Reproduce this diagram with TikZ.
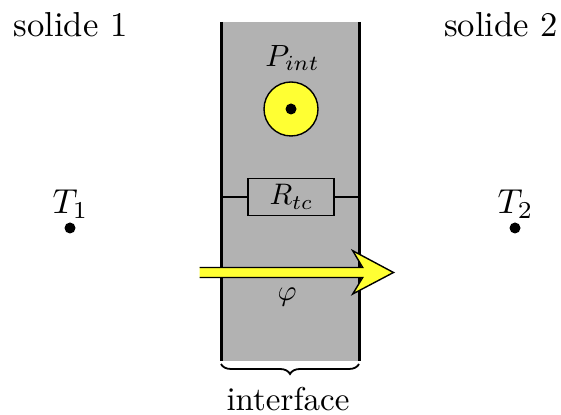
\documentclass[tikz,border=0pt]{standalone}
\usetikzlibrary{decorations.pathreplacing}
\definecolor{wallgray}{HTML}{B2B2B2}
\definecolor{fluxyellow}{HTML}{FFFF33}
\tikzset{
  lbl/.style={inner sep=0pt,scale=1.65},
  wall/.style={line width=1.5pt},
  thin wire/.style={line width=0.7pt},
  dotmark/.style={circle,fill=black,inner sep=0pt,minimum size=5.5pt},
  res/.style={draw,line width=0.7pt,minimum width=43pt,minimum height=18.5pt,inner sep=0pt}
}
\begin{document}
\begin{tikzpicture}[x=0.5pt,y=-0.5pt]
\useasboundingbox (0,0) rectangle (561,415);
\fill[wallgray] (221,22) rectangle (359,361);
\coordinate (wl) at (221,197);
\coordinate (wr) at (359,197);
\draw[wall] (221,22) -- (221,361);
\draw[wall] (359,22) -- (359,361);
\node[res] (R) at (291,197) {};
\node[lbl,scale=0.9] (Rl) at (291.5,197) {$R_{tc}$};
\draw[thin wire] (wl) -- (R.west);
\draw[thin wire] (R.east) -- (wr);
\node[circle,draw,fill=fluxyellow,line width=0.7pt,minimum size=27pt,inner sep=0pt] (src) at (291,109) {};
\node[dotmark] (srcdot) at (src.center) {};
\node[lbl,scale=0.93] (P) at (292.5,58) {$P_{int}$};
\node[lbl,scale=1.05] (s1) at (70.5,25) {solide 1};
\node[lbl,scale=1.05] (s2) at (501,25) {solide 2};
\node[dotmark] (d1) at (70,228) {};
\node[dotmark] (d2) at (515,228) {};
\node[lbl,scale=1.05] (T1) at (70.5,204) {$T_1$};
\node[lbl,scale=1.05] (T2) at (515.5,204) {$T_2$};
\fill[fluxyellow] (199.5,267.5) -- (362.7,267.5) -- (352.7,250.7) -- (393.5,272.5) -- (352.7,294) -- (362.7,277.5) -- (199.5,277.5) -- cycle;
\draw[line width=0.7pt,line join=miter] (199.5,267.5) -- (362.7,267.5) -- (352.7,250.7) -- (393.5,272.5) -- (352.7,294) -- (362.7,277.5) -- (199.5,277.5);
\node[lbl,scale=0.88] (phi) at (287,297) {$\varphi$};
\coordinate (bl) at (221,364);
\coordinate (br) at (359,364);
\draw[line width=0.9pt,decorate,decoration={brace,mirror,amplitude=5pt}] (bl) -- (br);
\node[lbl,scale=1.0] (ifc) at (288,399.5) {interface};
\end{tikzpicture}
\end{document}
